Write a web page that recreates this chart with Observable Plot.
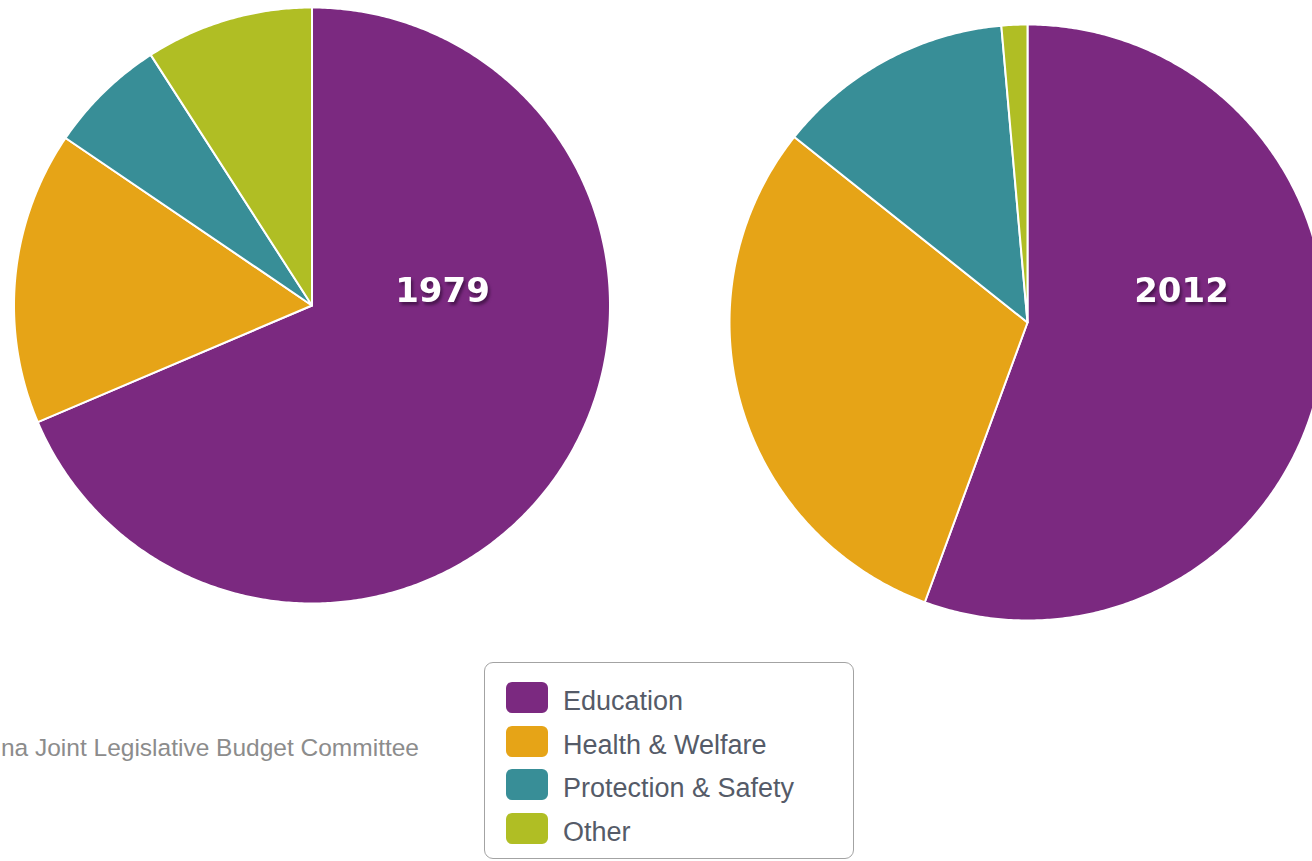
<!DOCTYPE html>
<html>
<head>
<meta charset="utf-8">
<script src="https://cdn.jsdelivr.net/npm/d3@7"></script>
<script src="https://cdn.jsdelivr.net/npm/@observablehq/plot@0.6"></script>
<style>
  html, body { margin: 0; padding: 0; background: #fff; }
  #wrap { position: relative; width: 1312px; height: 861px; overflow: hidden; }
  #chart { position: absolute; left: 0; top: 0; }
  #caption { position: absolute; right: calc(1312px - 419px); top: 734px; white-space: nowrap;
    font-family: "Liberation Sans", Arial, sans-serif; font-size: 24.5px; color: #8c8c8c; }
  #legend { position: absolute; left: 484px; top: 662px; width: 368px; height: 195px;
    border: 1.5px solid #a3a3a3; border-radius: 9px; background: #fff; }
  .item { position: absolute; left: 21px; height: 31px; display: flex; align-items: center; }
  .sw { width: 42px; height: 31px; border-radius: 6px; margin-right: 15px; flex: none; }
  .lab { font-family: "Liberation Sans", Arial, sans-serif; font-size: 27px; color: #555b68;
    position: relative; top: 4px; white-space: nowrap; }
</style>
</head>
<body>
<div id="wrap">
  <div id="chart"></div>
  <div id="caption"></div>
  <div id="legend"></div>
</div>
<script>
// ---- data ----
const categories = ["Education", "Health & Welfare", "Protection & Safety", "Other"];
const colors = ["#7b2980", "#e6a417", "#388e97", "#b0be24"];
const years = ["1979", "2012"];
const shares1979 = [68.6, 15.9, 6.4, 9.1];
const shares2012 = [55.6, 30.1, 12.9, 1.4];
const captionText = "na Joint Legislative Budget Committee";

// ---- layout ----
const W = 1312, H = 861;
const pies = [
  {year: years[0], values: shares1979, cx: 311.5, cy: 305, r: 298, labelX: 442},
  {year: years[1], values: shares2012, cx: 1027, cy: 322, r: 298, labelX: 1181}
];
const labelY = 291;

// build slice outlines via d3.pie (angles clockwise from 12 o'clock)
const pts = [];
for (const p of pies) {
  const arcs = d3.pie().sort(null).value(d => d)(p.values);
  arcs.forEach((a, i) => {
    const key = p.year + "-" + i;
    const cat = categories[i];
    pts.push({key, cat, x: p.cx, y: p.cy});
    const n = Math.max(2, Math.ceil((a.endAngle - a.startAngle) / (Math.PI / 360)));
    for (let k = 0; k <= n; k++) {
      const t = a.startAngle + (a.endAngle - a.startAngle) * k / n;
      pts.push({key, cat, x: p.cx + p.r * Math.sin(t), y: p.cy - p.r * Math.cos(t)});
    }
  });
}
const labels = pies.map(p => ({year: p.year, x: p.labelX, y: labelY}));

const chart = Plot.plot({
  width: W, height: H,
  margin: 0,
  x: {domain: [0, W], range: [0, W], axis: null},
  y: {domain: [0, H], range: [0, H], axis: null},
  color: {domain: categories, range: colors},
  style: {background: "transparent"},
  marks: [
    Plot.line(pts, {x: "x", y: "y", z: "key", fill: "cat", stroke: "#ffffff", strokeWidth: 2,
      strokeLinejoin: "round", curve: "linear-closed"}),
    Plot.text(labels, {x: "x", y: "y", text: "year", fill: "#ffffff",
      fontSize: 34, fontWeight: "bold", fontFamily: "DejaVu Sans", textAnchor: "middle"})
  ]
});
d3.select(chart).selectAll("g[aria-label='text'] text")
  .style("filter", "drop-shadow(2px 3px 1.5px rgba(40,8,45,0.6))");
document.getElementById("chart").appendChild(chart);

document.getElementById("caption").textContent = captionText;

const legend = document.getElementById("legend");
categories.forEach((c, i) => {
  const item = document.createElement("div");
  item.className = "item";
  item.style.top = (19 + i * 43.5) + "px";
  const sw = document.createElement("div");
  sw.className = "sw";
  sw.style.background = colors[i];
  const lab = document.createElement("span");
  lab.className = "lab";
  lab.textContent = c;
  item.appendChild(sw);
  item.appendChild(lab);
  legend.appendChild(item);
});
</script>
</body>
</html>
